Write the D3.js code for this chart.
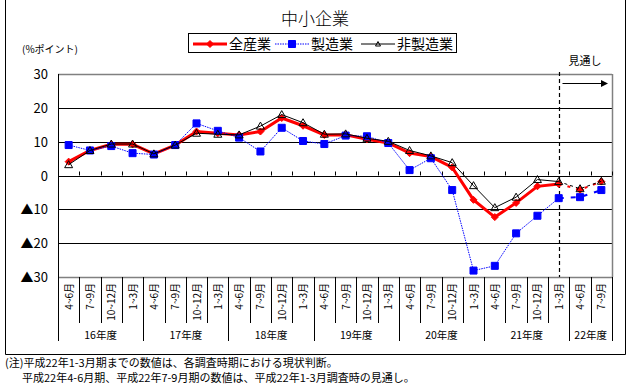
<!DOCTYPE html>
<html>
<head>
<meta charset="utf-8">
<script src="https://cdn.jsdelivr.net/npm/d3@7"></script>
<style>
body { margin: 0; background: #fff; }
svg { display: block; font-family: "Noto Sans CJK JP", sans-serif; }
</style>
</head>
<body>
<svg width="630" height="386"></svg>
<script>
// categories (quarters) and fiscal years
var quarters = ["4~6月","7~9月","10~12月","1~3月",
                "4~6月","7~9月","10~12月","1~3月",
                "4~6月","7~9月","10~12月","1~3月",
                "4~6月","7~9月","10~12月","1~3月",
                "4~6月","7~9月","10~12月","1~3月",
                "4~6月","7~9月","10~12月","1~3月",
                "4~6月","7~9月"];
var years = ["16年度","17年度","18年度","19年度","20年度","21年度","22年度"];
var yearCounts = [4,4,4,4,4,4,2];

// series values (% points)
var allIndustry = [4.1,7.4,9.2,9.2,6.4,9.0,13.0,12.5,12.0,13.0,17.0,14.7,12.0,12.0,10.7,9.6,6.6,5.6,2.4,-7.2,-12.3,-8.1,-3.2,-2.5,-4.2,-1.8];
var manufacturing = [9.0,7.4,8.7,6.6,6.2,9.0,15.4,13.2,11.2,7.1,14.1,10.2,9.3,11.8,11.6,9.6,1.6,5.1,-4.3,-28.1,-26.7,-17.1,-11.9,-6.7,-6.4,-4.3];
var nonManufacturing = [3.2,7.4,9.3,9.3,6.4,9.0,12.5,12.2,12.0,14.6,18.0,15.6,12.2,12.3,11.0,10.1,7.4,5.8,3.8,-3.0,-9.5,-6.4,-1.2,-1.8,-3.9,-1.7];
var yTicks = [30,20,10,0,-10,-20,-30];
var forecastStart = 23; // last actual point, later ones are forecasts

var svg = d3.select("svg");

var x = d3.scaleBand()
    .domain(d3.range(quarters.length))
    .range([58, 612]);
var y = d3.scaleLinear()
    .domain([-30, 30])
    .range([277, 74]);
var cx = function (i) { return x(i) + x.bandwidth() / 2; };

// outer frame
svg.append("path")
    .attr("d", "M5.5,0V354.5H625.5V0")
    .attr("fill", "none")
    .attr("stroke", "#000");

// title
svg.append("text")
    .attr("x", 315).attr("y", 25)
    .attr("text-anchor", "middle")
    .attr("font-size", 17)
    .attr("font-weight", 300)
    .text("中小企業");

svg.append("text")
    .attr("x", 22).attr("y", 53)
    .attr("font-size", 10)
    .text("(%ポイント)");

// grid lines
svg.append("g").selectAll("line")
    .data(yTicks)
    .enter().append("line")
    .attr("x1", 58).attr("x2", 612)
    .attr("y1", function (d) { return Math.round(y(d)) + 0.5; })
    .attr("y2", function (d) { return Math.round(y(d)) + 0.5; })
    .attr("stroke", function (d) { return Math.abs(d) === 30 ? "#808080" : "#000"; })
    .attr("stroke-width", function (d) { return Math.abs(d) === 30 ? 1.5 : 1.2; });

// right border of plot
svg.append("line")
    .attr("x1", 612.5).attr("x2", 612.5)
    .attr("y1", y(30)).attr("y2", y(-30))
    .attr("stroke", "#808080").attr("stroke-width", 1.5);

// tick marks on zero line
svg.append("g").selectAll("line")
    .data(d3.range(1, quarters.length + 1))
    .enter().append("line")
    .attr("x1", function (i) { return Math.round(x(i) || 612) + 0.5; })
    .attr("x2", function (i) { return Math.round(x(i) || 612) + 0.5; })
    .attr("y1", y(0) - 4).attr("y2", y(0))
    .attr("stroke", "#000");

// y tick labels
svg.append("g").selectAll("text")
    .data(yTicks)
    .enter().append("text")
    .attr("x", 48)
    .attr("y", function (d) { return y(d) + 5; })
    .attr("text-anchor", "end")
    .attr("font-size", 13)
    .text(function (d) { return d < 0 ? "▲" + Math.abs(d) : d; });

// left axis line, extended through category area
svg.append("line")
    .attr("x1", 58.5).attr("x2", 58.5)
    .attr("y1", y(30)).attr("y2", 341)
    .attr("stroke", "#000");

// category separators
var yearStarts = [];
var acc = 0;
yearCounts.forEach(function (c) { yearStarts.push(acc); acc += c; });

svg.append("g").selectAll("line")
    .data(d3.range(1, quarters.length + 1))
    .enter().append("line")
    .attr("x1", function (i) { return Math.round(i < quarters.length ? x(i) : 612) + 0.5; })
    .attr("x2", function (i) { return Math.round(i < quarters.length ? x(i) : 612) + 0.5; })
    .attr("y1", 277)
    .attr("y2", function (i) { return (yearStarts.indexOf(i) >= 0 || i === quarters.length) ? 341 : 323; })
    .attr("stroke", "#000");

// quarter labels (rotated)
svg.append("g").selectAll("text")
    .data(quarters)
    .enter().append("text")
    .attr("transform", function (d, i) { return "translate(" + (cx(i) + 4) + ",283) rotate(-90)"; })
    .attr("text-anchor", "end")
    .attr("font-size", 10)
    .text(function (d) { return d; });

// year labels
svg.append("g").selectAll("text")
    .data(years)
    .enter().append("text")
    .attr("x", function (d, i) {
        var s = yearStarts[i], e = s + yearCounts[i];
        return (x(s) + (e < quarters.length ? x(e) : 612)) / 2;
    })
    .attr("y", 339)
    .attr("text-anchor", "middle")
    .attr("font-size", 10.5)
    .text(function (d) { return d; });

// forecast divider and arrow
var fx = Math.round(cx(forecastStart)) + 0.5;
svg.append("line")
    .attr("x1", fx).attr("x2", fx)
    .attr("y1", 72).attr("y2", 277)
    .attr("stroke", "#000").attr("stroke-width", 1.2)
    .attr("stroke-dasharray", "4,3");
svg.append("text")
    .attr("x", 585).attr("y", 65)
    .attr("text-anchor", "middle")
    .attr("font-size", 11)
    .text("見通し");
svg.append("line")
    .attr("x1", fx + 3).attr("x2", 602)
    .attr("y1", 83.5).attr("y2", 83.5)
    .attr("stroke", "#000");
svg.append("path")
    .attr("d", "M601,80L608,83.5L601,87Z")
    .attr("fill", "#000");

// series
var line = d3.line()
    .x(function (d) { return cx(d.i); })
    .y(function (d) { return y(d.v); });

function toPts(arr) {
    return arr.map(function (v, i) { return { i: i, v: v }; });
}

function drawSeries(arr, opt) {
    var pts = toPts(arr);
    var actual = pts.slice(0, forecastStart + 1);
    var fc = pts.slice(forecastStart);
    svg.append("path")
        .datum(actual)
        .attr("d", line)
        .attr("fill", "none")
        .attr("stroke", opt.color)
        .attr("stroke-width", opt.width)
        .attr("stroke-dasharray", opt.dash || null);
    svg.append("path")
        .datum(fc)
        .attr("d", line)
        .attr("fill", "none")
        .attr("stroke", opt.color)
        .attr("stroke-width", opt.fcWidth)
        .attr("stroke-dasharray", opt.fcDash);
    svg.append("g").selectAll("path")
        .data(pts)
        .enter().append("path")
        .attr("transform", function (d) { return "translate(" + cx(d.i) + "," + y(d.v) + ")"; })
        .attr("d", opt.marker)
        .attr("fill", opt.fill)
        .attr("stroke", opt.mstroke)
        .attr("stroke-width", 1);
}

var diamond = "M0,-3.5L3.5,0L0,3.5L-3.5,0Z";
var square = "M-3.5,-3.5H3.5V3.5H-3.5Z";
var triangle = "M0,-4L4,3L-4,3Z";

drawSeries(allIndustry, { color: "#ff0000", width: 3, fcWidth: 2, fcDash: "3,6",
    marker: diamond, fill: "#ff0000", mstroke: "#ff0000" });
drawSeries(manufacturing, { color: "#0000ff", width: 1, dash: "1.5,1", fcWidth: 2, fcDash: "5,7",
    marker: square, fill: "#0000ff", mstroke: "#0000ff" });
drawSeries(nonManufacturing, { color: "#000", width: 1, fcWidth: 1, fcDash: "3,3",
    marker: triangle, fill: "none", mstroke: "#000" });

// legend
var lg = svg.append("g");
lg.append("rect")
    .attr("x", 188.5).attr("y", 33.5)
    .attr("width", 268).attr("height", 19)
    .attr("fill", "#fff").attr("stroke", "#000");

var legendItems = [
    { name: "全産業", x: 193, color: "#ff0000", w: 3, dash: null, marker: diamond, fill: "#ff0000", ms: "#ff0000" },
    { name: "製造業", x: 275, color: "#0000ff", w: 1, dash: "1.5,1", marker: square, fill: "#0000ff", ms: "#0000ff" },
    { name: "非製造業", x: 361, color: "#000", w: 1, dash: null, marker: "M0,-2.5L2.5,2L-2.5,2Z", fill: "none", ms: "#000" }
];
legendItems.forEach(function (d) {
    lg.append("line")
        .attr("x1", d.x).attr("x2", d.x + 34)
        .attr("y1", 44).attr("y2", 44)
        .attr("stroke", d.color).attr("stroke-width", d.w)
        .attr("stroke-dasharray", d.dash);
    lg.append("path")
        .attr("transform", "translate(" + (d.x + 17) + ",44)")
        .attr("d", d.marker)
        .attr("fill", d.fill).attr("stroke", d.ms);
    lg.append("text")
        .attr("x", d.x + 36).attr("y", 49)
        .attr("font-size", 14)
        .text(d.name);
});

// footnote
svg.append("text")
    .attr("x", 5).attr("y", 367)
    .attr("font-size", 11)
    .text("(注)平成22年1-3月期までの数値は、各調査時期における現状判断。");
svg.append("text")
    .attr("x", 22).attr("y", 382)
    .attr("font-size", 11)
    .text("平成22年4-6月期、平成22年7-9月期の数値は、平成22年1-3月調査時の見通し。");
</script>
</body>
</html>
